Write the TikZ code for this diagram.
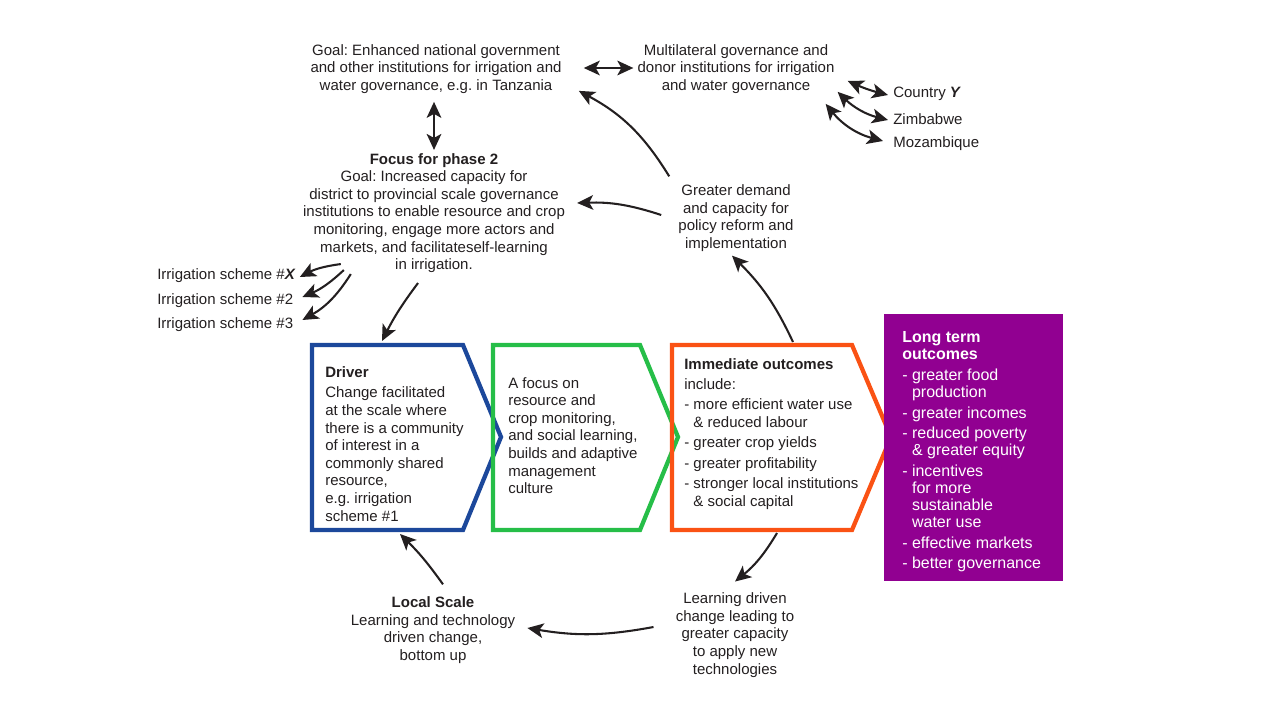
\documentclass[tikz,border=0pt]{standalone}
\usepackage{fontspec}
\setmainfont{Liberation Sans}
\usetikzlibrary{arrows.meta,calc}
\definecolor{txtc}{RGB}{35,31,32}
\definecolor{cblue}{RGB}{28,72,155}
\definecolor{cgreen}{RGB}{38,190,72}
\definecolor{corange}{RGB}{250,82,20}
\definecolor{cpurple}{RGB}{145,0,145}
\frenchspacing
\begin{document}
\begin{tikzpicture}[x=0.75pt,y=-0.75pt,
  txt/.style={inner sep=0pt, text=txtc, font=\fontsize{11.25}{13.2}\selectfont},
  ltxt/.style={inner sep=0pt, text=white, font=\fontsize{12}{12.9}\selectfont},
  arr/.style={draw=txtc, line width=1.55pt, -{Stealth[length=12pt,width=11pt,inset=3pt]}},
  dbl/.style={draw=txtc, line width=1.55pt, {Stealth[length=12pt,width=11pt,inset=3pt]}-{Stealth[length=12pt,width=11pt,inset=3pt]}},
  chev/.style={line width=3.2pt, line join=miter}]
\useasboundingbox (0,0) rectangle (1280,720);

% chevrons
\draw[chev, draw=cblue] (312,345) -- (463,345) -- (501,437) -- (463,530) -- (312,530) -- cycle;
\draw[chev, draw=cgreen] (493,345) -- (640,345) -- (678,437) -- (640,530) -- (493,530) -- cycle;
\draw[chev, draw=corange] (672,345) -- (852,345) -- (891,437) -- (852,530) -- (672,530) -- cycle;
\coordinate (drvtop) at (382,341);
\coordinate (drvbot) at (400,534);
\coordinate (immtop) at (793,342);
\coordinate (immbot) at (777,533);

% long term box
\fill[cpurple] (884,314) rectangle (1063,581);

% texts
\node[txt, align=center] (goal) at (436,69) {Goal: Enhanced national government\\and other institutions for irrigation and\\water governance, e.g. in Tanzania};
\node[txt, align=center] (multi) at (736,69) {Multilateral governance and\\donor institutions for irrigation\\and water governance};
\node[txt, align=center] (focus) at (434,213) {\textbf{Focus for phase 2}\\Goal: Increased capacity for\\district to provincial scale governance\\institutions to enable resource and crop\\monitoring, engage more actors and\\markets, and facilitateself-learning\\in irrigation.};
\node[txt, align=center] (demand) at (736,218) {Greater demand\\and capacity for\\policy reform and\\implementation};
\node[txt, align=center] (local) at (433,630) {\textbf{Local Scale}\\Learning and technology\\driven change,\\bottom up};
\node[txt, align=center] (learn) at (735,635) {Learning driven\\change leading to\\greater capacity\\to apply new\\technologies};

\node[txt, anchor=west] (irX) at (157,276) {Irrigation scheme \#\textbf{\textit{X}}};
\node[txt, anchor=west] (ir2) at (157,301) {Irrigation scheme \#2};
\node[txt, anchor=west] (ir3) at (157,325) {Irrigation scheme \#3};

\node[txt, anchor=west] (cY) at (893,94) {Country \textbf{\textit{Y}}};
\node[txt, anchor=west] (zim) at (893,119) {Zimbabwe};
\node[txt, anchor=west] (moz) at (893,144) {Mozambique};

\node[txt, align=left, anchor=north west] (drvtxt) at (325,366) {\textbf{Driver}\\[2.4pt]Change facilitated\\at the scale where\\there is a community\\of interest in a\\commonly shared\\resource,\\e.g. irrigation\\scheme \#1};
\node[txt, align=left, anchor=north west] (foctxt) at (508,377) {A focus on\\resource and\\crop monitoring,\\and social learning,\\builds and adaptive\\management\\culture};
\node[txt, align=left, anchor=north west] (immtxt) at (684,358) {\textbf{Immediate outcomes}\\[2pt]include:\\[2pt]- more efficient water use\\\hphantom{- }\& reduced labour\\[2.2pt]- greater crop yields\\[2.2pt]- greater profitability\\[2pt]- stronger local institutions\\\hphantom{- }\& social capital};
\node[ltxt, align=left, anchor=north west] (lttxt) at (902,331) {\textbf{Long term}\\\textbf{outcomes}\\[2.6pt]- greater food\\\hphantom{- }production\\[2.6pt]- greater incomes\\[2.4pt]- reduced poverty\\\hphantom{- }\& greater equity\\[2.6pt]- incentives\\\hphantom{- }for more\\\hphantom{- }sustainable\\\hphantom{- }water use\\[2.4pt]- effective markets\\[2.6pt]- better governance};

% connectors
\draw[dbl] ($(goal.east)+(22,-1)$) -- ($(multi.west)+(-4,-1)$);
\draw[dbl] ($(goal.south)+(-2,8)$) -- ($(focus.north)+(0,-3)$);
\draw[arr] ($(focus.south west)+(38,-9)$) to[bend right=10] ($(irX.east)+(4,1)$);
\draw[arr] ($(focus.south west)+(41,-3)$) to[bend left=10] ($(ir2.east)+(9,-4)$);
\draw[arr] ($(focus.south west)+(48,1)$) to[bend left=14] ($(ir3.east)+(9,-5)$);
\draw[arr] ($(focus.south)+(-16,10)$) to[bend right=5] (drvtop);
\draw[arr] ($(demand.north west)+(-9,-8)$) to[bend right=15] ($(goal.south east)+(17,-3)$);
\draw[arr] ($(demand.west)+(-17,-3)$) to[bend right=10] ($(focus.east)+(12,-10)$);
\draw[arr] (immtop) to[bend right=10] ($(demand.south)+(-4,4)$);
\draw[arr] (immbot) to[bend left=10] ($(learn.north)+(0,-11)$);
\draw[arr] ($(learn.west)+(-22,-8)$) to[bend left=10] ($(local.east)+(12,-2)$);
\draw[arr] ($(local.north)+(10,-12)$) to[bend right=5] (drvbot);
\draw[dbl] ($(multi.south east)+(13,-13)$) to[bend right=5] ($(cY.west)+(-5,1)$);
\draw[dbl] ($(multi.south east)+(3,-2)$) to[bend right=15] ($(zim.west)+(-5,1)$);
\draw[dbl] ($(multi.south east)+(-9,10)$) to[bend right=18] ($(moz.west)+(-10,-3)$);
\end{tikzpicture}
\end{document}
